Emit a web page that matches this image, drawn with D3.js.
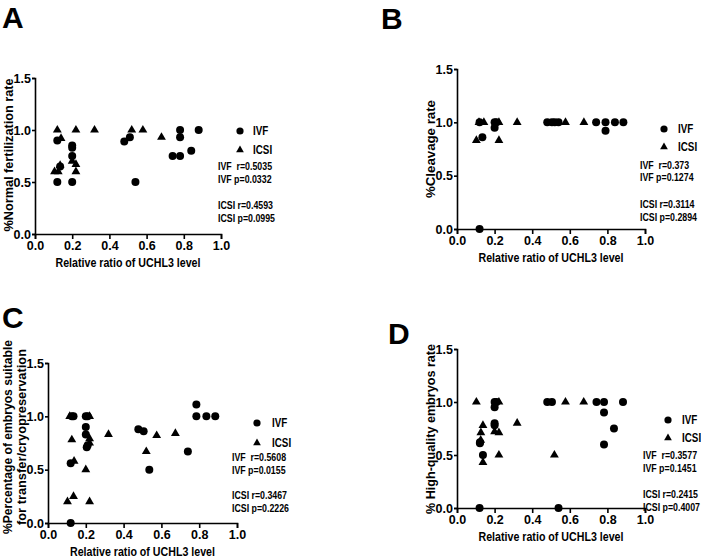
<!DOCTYPE html>
<html><head><meta charset="utf-8">
<script src="https://cdn.jsdelivr.net/npm/d3@7"></script>
<style>
html,body{margin:0;padding:0;background:#fff;}
text{font-family:"Liberation Sans",Arial,sans-serif;font-weight:bold;fill:#000;white-space:pre;}
</style></head>
<body><svg id="c" width="701" height="558"></svg>
<script>
// ---- data ----
const xTicks = [0, 0.2, 0.4, 0.6, 0.8, 1.0];
const yTicks = [0, 0.5, 1.0, 1.5];
const xTitle = "Relative ratio of UCHL3 level";
const seriesNames = ["IVF", "ICSI"];

const ivfA = [[0.12,0.90],[0.12,0.50],[0.135,0.65],[0.20,0.85],[0.20,0.83],[0.20,0.75],[0.20,0.50],
  [0.48,0.89],[0.51,0.93],[0.54,0.50],[0.74,0.75],[0.78,0.75],[0.78,0.93],[0.78,1.0],[0.84,0.80],[0.88,1.0]];
const icsiA = [[0.12,1.0],[0.22,1.0],[0.32,1.0],[0.52,1.0],[0.58,1.0],[0.68,0.93],[0.14,0.92],
  [0.105,0.60],[0.125,0.60],[0.135,0.66],[0.20,0.70],[0.22,0.67],[0.22,0.60]];

const ivfB = [[0.12,1.0],[0.135,0.86],[0.12,0.0],[0.20,1.0],[0.21,1.0],[0.20,0.95],
  [0.48,1.0],[0.505,1.0],[0.52,1.0],[0.54,1.0],[0.74,1.0],[0.79,1.0],[0.79,0.92],[0.84,1.0],[0.885,1.0]];
const icsiB = [[0.103,0.83],[0.117,1.0],[0.143,1.0],[0.223,1.0],[0.223,0.83],[0.32,1.0],[0.577,1.0],[0.675,1.0]];

const ivfC = [[0.12,0.56],[0.12,0.0],[0.126,1.0],[0.135,1.0],[0.20,0.90],[0.20,0.83],[0.205,0.71],[0.21,0.73],
  [0.20,1.0],[0.21,1.0],[0.478,0.88],[0.506,0.86],[0.536,0.50],[0.74,0.67],[0.785,1.11],[0.785,1.0],[0.838,1.0],[0.885,1.0]];
const icsiC = [[0.103,0.20],[0.135,0.25],[0.126,0.78],[0.138,0.58],[0.115,1.0],[0.20,0.50],[0.22,0.20],
  [0.22,0.79],[0.22,0.75],[0.22,1.0],[0.32,0.83],[0.52,0.67],[0.575,0.82],[0.674,0.84]];

const ivfD = [[0.12,0.0],[0.122,0.61],[0.122,0.62],[0.138,0.50],[0.20,1.0],[0.21,1.0],[0.20,0.95],[0.20,0.80],[0.20,0.78],
  [0.48,1.0],[0.505,1.0],[0.54,0.0],[0.742,1.0],[0.782,1.0],[0.782,0.90],[0.835,0.75],[0.782,0.60],[0.883,1.0]];
const icsiD = [[0.103,1.0],[0.126,0.64],[0.127,0.71],[0.138,0.78],[0.138,0.43],[0.223,1.0],[0.20,0.72],
  [0.223,0.71],[0.223,0.50],[0.32,0.80],[0.518,0.50],[0.577,1.0],[0.674,1.0]];

const statsA = ["IVF  r=0.5035","IVF p=0.0332","ICSI r=0.4593","ICSI p=0.0995"];
const statsB = ["IVF  r=0.373","IVF p=0.1274","ICSI r=0.3114","ICSI p=0.2894"];
const statsC = ["IVF  r=0.5608","IVF p=0.0155","ICSI r=0.3467","ICSI p=0.2226"];
const statsD = ["IVF  r=0.3577","IVF p=0.1451","ICSI r=0.2415","ICSI p=0.4007"];

const yTitleA = ["%Normal fertilization rate"];
const yTitleB = ["%Cleavage rate"];
const yTitleC = ["%Percentage of embryos suitable","for transfer/cryopreservation"];
const yTitleD = ["% High-quality embryos rate"];

// ---- layout ----
const panels = [
  {letter:"A", lx:2, ly:28, x0:35, x1:221, yT:78, yB:234, ivf:ivfA, icsi:icsiA, stats:statsA, yt:yTitleA, ytx:[13], ytc:155, ytl:[153], ytf:13.5,
   sym:240, lab:253, legY:[131,150], sx:218, sy:[166,179,205,218], xtY:267},
  {letter:"B", lx:381, ly:29, x0:457, x1:645, yT:69, yB:229, ivf:ivfB, icsi:icsiB, stats:statsB, yt:yTitleB, ytx:[435], ytc:149, ytl:[98], ytf:13.5,
   sym:664, lab:678, legY:[129,147], sx:640, sy:[165,177,204,217], xtY:262},
  {letter:"C", lx:2, ly:328, x0:48, x1:237, yT:363, yB:523, ivf:ivfC, icsi:icsiC, stats:statsC, yt:yTitleC, ytx:[12,26], ytc:437, ytl:[194,176], ytf:12.5,
   sym:257, lab:272, legY:[423,443], sx:232, sy:[457,470,495,508], xtY:556},
  {letter:"D", lx:388, ly:344, x0:457, x1:645, yT:349, yB:508, ivf:ivfD, icsi:icsiD, stats:statsD, yt:yTitleD, ytx:[435], ytc:429, ytl:[170], ytf:13.5,
   sym:668, lab:682, legY:[420,438], sx:643, sy:[455,468,494,507], xtY:541}
];

const svg = d3.select("#c");
const SX = 0.82;
function ctext(g, x, y, s, size, anchor, sx){
  return g.append("text").attr("transform",`translate(${x},${y}) scale(${sx},1)`)
    .attr("font-size",size).attr("text-anchor",anchor||"start").text(s);
}
const tri = d3.symbol().type(d3.symbolTriangle).size(34);

panels.forEach(p => {
  const g = svg.append("g");
  const x = d3.scaleLinear().domain([0,1]).range([p.x0,p.x1]);
  const y = d3.scaleLinear().domain([0,1.5]).range([p.yB,p.yT]);

  g.append("text").attr("x",p.lx).attr("y",p.ly).attr("font-size",30).text(p.letter);

  const xa = g.append("g").attr("transform",`translate(0,${p.yB})`)
    .call(d3.axisBottom(x).tickValues(xTicks).tickFormat(d3.format(".1f")).tickSizeOuter(5).tickSize(5).tickPadding(2));
  const ya = g.append("g").attr("transform",`translate(${p.x0},0)`)
    .call(d3.axisLeft(y).tickValues(yTicks).tickFormat(d3.format(".1f")).tickSizeOuter(3).tickSize(3).tickPadding(1));
  [xa,ya].forEach(a=>{
    a.selectAll("path,line").attr("stroke","#000").attr("stroke-width",1.6);
    a.selectAll("text").attr("font-size",12.5).attr("font-family","Liberation Sans, Arial").attr("font-weight","bold").attr("fill","#000");
  });
  xa.selectAll("text").attr("dy","0.75em");

  // titles
  ctext(g, (p.x0+p.x1)/2, p.xtY, xTitle, 13, "middle", SX);
  p.yt.forEach((t,i)=>{
    g.append("text").attr("transform",`translate(${p.ytx[i]},${p.ytc}) rotate(-90)`)
      .attr("font-size",p.ytf).attr("text-anchor","middle")
      .attr("textLength",p.ytl[i]).attr("lengthAdjust","spacingAndGlyphs").text(t);
  });

  // points
  g.selectAll("circle.ivf").data(p.ivf).join("circle").attr("class","ivf")
    .attr("cx",d=>x(d[0])).attr("cy",d=>y(d[1])).attr("r",4).attr("fill","#000");
  g.selectAll("path.icsi").data(p.icsi).join("path").attr("class","icsi")
    .attr("d",tri).attr("transform",d=>`translate(${x(d[0])},${y(d[1])})`).attr("fill","#000");

  // legend
  g.append("circle").attr("cx",p.sym).attr("cy",p.legY[0]).attr("r",3.6).attr("fill","#000");
  g.append("path").attr("d",d3.symbol().type(d3.symbolTriangle).size(26)).attr("transform",`translate(${p.sym},${p.legY[1]})`).attr("fill","#000");
  ctext(g, p.lab, p.legY[0]+4, seriesNames[0], 12, "start", SX);
  ctext(g, p.lab, p.legY[1]+4, seriesNames[1], 12, "start", SX);
  p.stats.forEach((s,i)=> ctext(g, p.sx, p.sy[i]+4, s, 11, "start", 0.8));
});
</script></body></html>
